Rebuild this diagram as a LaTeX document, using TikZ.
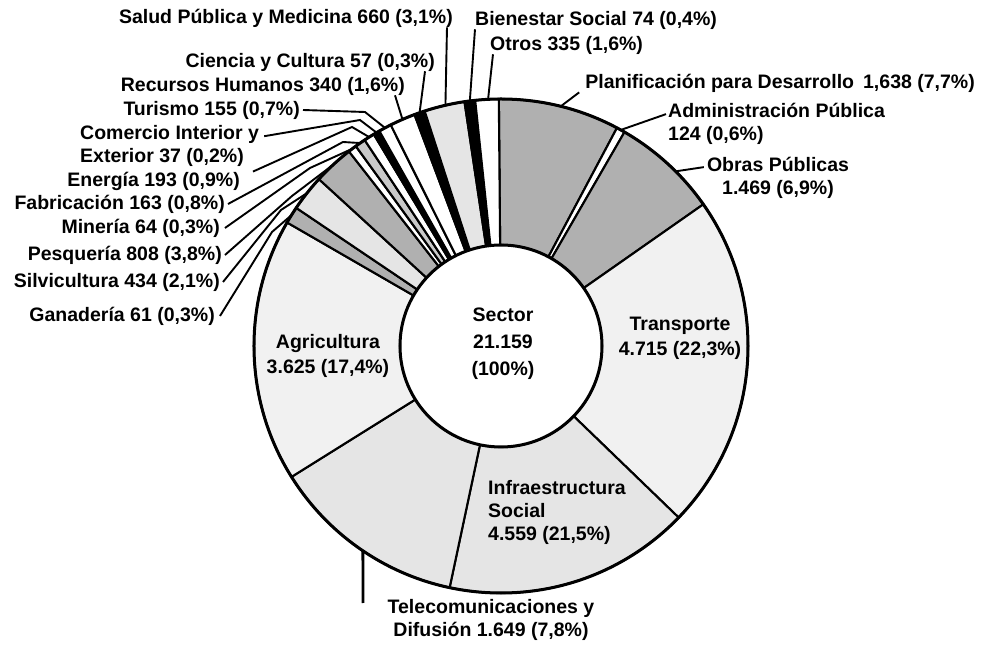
\documentclass[tikz,border=0pt]{standalone}
\usepackage{fontspec}
\setmainfont{Liberation Sans}
\usepackage{tikz}
\tikzset{
  ring/.style={draw=black, line width=2.1pt},
  darkfill/.style={ring, fill=gray!62},
  midfill/.style={ring, fill=gray!42},
  lightfill/.style={ring, fill=gray!20},
  palefill/.style={ring, fill=gray!11},
  whitefill/.style={ring, fill=white},
  blackfill/.style={ring, fill=black},
  lbl/.style={font=\fontsize{19.5}{23}\selectfont\bfseries, inner sep=0pt},
  lead/.style={line width=1.9pt}
}
\newcommand{\Rout}{247}
\newcommand{\Rin}{101}
% one piece of the ring: start angle, end angle, style
\newcommand{\ringslice}[3]{%
  \filldraw[#3] (#1:\Rout) arc[start angle=#1, end angle=#2, radius=\Rout]
    -- (#2:\Rin) arc[start angle=#2, end angle=#1, radius=\Rin] -- cycle;}

\begin{document}
\begin{tikzpicture}[x=1pt, y=1pt]
\useasboundingbox (-501,-304) rectangle (487,346);

% ring
\ringslice{90.5}{62}{darkfill}
\ringslice{62}{60}{whitefill}
\ringslice{60}{35}{darkfill}
\ringslice{35}{-44}{palefill}
\ringslice{-44}{-102}{lightfill}
\ringslice{-102}{-148}{lightfill}
\ringslice{-148}{-210}{palefill}
\ringslice{150}{146}{darkfill}
\ringslice{146}{137.5}{lightfill}
\ringslice{137.5}{128}{darkfill}
\ringslice{128}{126}{whitefill}
\ringslice{126}{123.5}{midfill}
\ringslice{123.5}{121}{whitefill}
\ringslice{121}{119.5}{blackfill}
\ringslice{119.5}{116.5}{whitefill}
\ringslice{116.5}{110.5}{whitefill}
\ringslice{110.5}{108}{blackfill}
\ringslice{108}{98.5}{lightfill}
\ringslice{98.5}{96}{blackfill}
\ringslice{96}{90.5}{whitefill}
\draw[line width=3pt] (0,0) circle[radius=\Rout];
\filldraw[fill=white, line width=3pt] (0,0) circle[radius=\Rin];

% where the leaders touch the ring
\coordinate (a-plan) at (76:\Rout);
\coordinate (a-admin) at (61:\Rout);
\coordinate (a-obras) at (45:\Rout);
\coordinate (a-tele) at (-124:\Rout);
\coordinate (a-gana) at (148:\Rout);
\coordinate (a-silvi) at (141.75:\Rout);
\coordinate (a-pesq) at (132.75:\Rout);
\coordinate (a-mine) at (127:\Rout);
\coordinate (a-fabri) at (124.75:\Rout);
\coordinate (a-ener) at (122.25:\Rout);
\coordinate (a-comer) at (120.25:\Rout);
\coordinate (a-turis) at (118:\Rout);
\coordinate (a-rrhh) at (113.5:\Rout);
\coordinate (a-cien) at (109.25:\Rout);
\coordinate (a-salud) at (103:\Rout);
\coordinate (a-bien) at (97.25:\Rout);
\coordinate (a-otros) at (93:\Rout);

% bends
\coordinate (b-turis) at (-136,234);
\coordinate (b-comer) at (-141,226);
\coordinate (b-ener) at (-149,219);
\coordinate (b-fabri) at (-158,204);
\coordinate (b-mine) at (-191,178);
\coordinate (b-pesq) at (-209,150);
\coordinate (b-silvi) at (-220,136);
\coordinate (b-gana) at (-229,114);
\coordinate (telefoot) at (-138,-257);

% labels in the ring
\node[lbl, align=center] (total) at (2,2) {Sector\\[4pt]21.159\\[4pt](100\%)};
\node[lbl, align=center] (agri) at (-173,-10) {Agricultura\\[2pt]3.625 (17,4\%)};
\node[lbl, align=center] (trans) at (179,8) {Transporte\\[2pt]4.715 (22,3\%)};
\node[lbl, align=left, anchor=west] (infra) at (-13,-166) {Infraestructura\\Social\\4.559 (21,5\%)};

% labels outside
\node[lbl, anchor=east] (salud) at (-48,328) {Salud Pública y Medicina 660 (3,1\%)};
\node[lbl, anchor=west] (bien) at (-26,326) {Bienestar Social 74 (0,4\%)};
\node[lbl, anchor=west] (otros) at (-11,301) {Otros 335 (1,6\%)};
\node[lbl, anchor=east] (cien) at (-66,284) {Ciencia y Cultura 57 (0,3\%)};
\node[lbl, anchor=east] (rrhh) at (-96,260) {Recursos Humanos 340 (1,6\%)};
\node[lbl, anchor=east] (turis) at (-201,236) {Turismo 155 (0,7\%)};
\node[lbl, align=left, anchor=west] (comer) at (-421,200) {Comercio Interior y\\Exterior 37 (0,2\%)};
\node[lbl, anchor=east] (ener) at (-261,165) {Energía 193 (0,9\%)};
\node[lbl, anchor=east] (fabri) at (-276,142) {Fabricación 163 (0,8\%)};
\node[lbl, anchor=east] (mine) at (-281,118) {Minería 64 (0,3\%)};
\node[lbl, anchor=east] (pesq) at (-279,91) {Pesquería 808 (3,8\%)};
\node[lbl, anchor=east] (silvi) at (-281,64) {Silvicultura 434 (2,1\%)};
\node[lbl, anchor=east] (gana) at (-286,30) {Ganadería 61 (0,3\%)};
\node[lbl, anchor=east] (plan) at (474,263) {Planificación para Desarrollo\hspace{9pt}1,638 (7,7\%)};
\node[lbl, align=left, anchor=west] (admin) at (167,222) {Administración Pública\\124 (0,6\%)};
\node[lbl, align=center] (obras) at (277,168) {Obras Públicas\\1.469 (6,9\%)};
\node[lbl, align=center] (tele) at (-10,-274) {Telecomunicaciones y\\Difusión 1.649 (7,8\%)};

% leaders
\draw[lead] ([xshift=-6pt]salud.south east) -- (a-salud);
\draw[lead] (bien.south west) -- (a-bien);
\draw[lead] ([xshift=3pt]otros.south west) -- (a-otros);
\draw[lead] ([xshift=-10pt]cien.south east) -- (a-cien);
\draw[lead] ([xshift=-10pt]rrhh.south east) -- (a-rrhh);
\draw[lead] ([xshift=3pt]turis.east) -- (b-turis) -- (a-turis);
\draw[lead] ([shift={(5pt,-11pt)}]comer.north east) -- (b-comer) -- (a-comer);
\draw[lead] ([xshift=13pt]ener.north east) -- (b-ener) -- (a-ener);
\draw[lead] ([xshift=3pt]fabri.east) -- (b-fabri) -- (a-fabri);
\draw[lead] ([xshift=5pt]mine.east) -- (b-mine) -- (a-mine);
\draw[lead] ([xshift=3pt]pesq.east) -- (b-pesq) -- (a-pesq);
\draw[lead] ([xshift=3pt]silvi.east) -- (b-silvi) -- (a-silvi);
\draw[lead] ([xshift=5pt]gana.east) -- (b-gana) -- (a-gana);
\draw[lead] ([xshift=-6pt]plan.south west) -- (a-plan);
\draw[lead] ([shift={(-2pt,-11pt)}]admin.north west) -- (a-admin);
\draw[lead] ([shift={(-3pt,-10pt)}]obras.north west) -- (a-obras);
\draw[line width=2.8pt] (a-tele) -- (telefoot);
\end{tikzpicture}
\end{document}
